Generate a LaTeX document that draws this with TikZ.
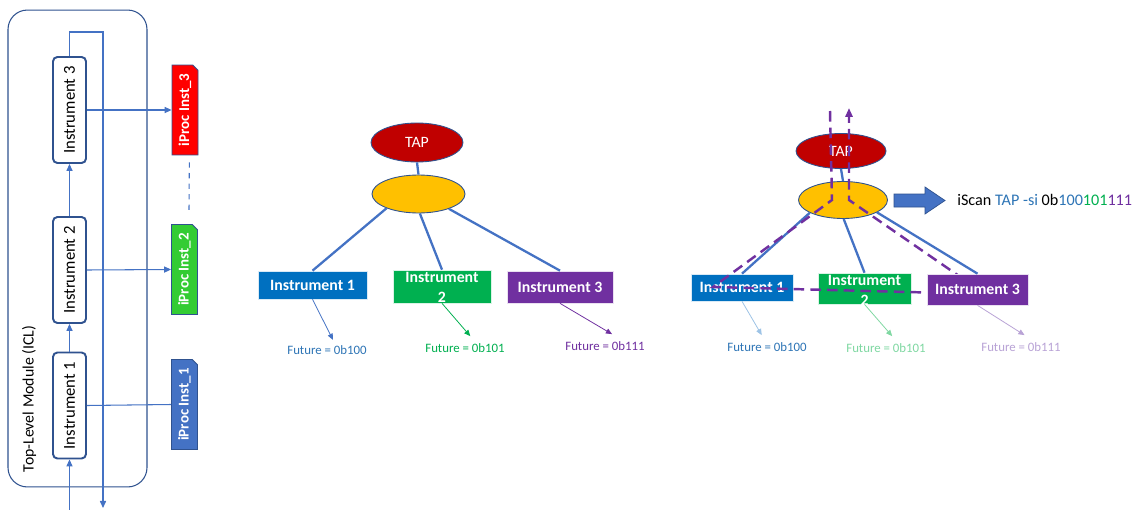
\documentclass[tikz,border=0pt]{standalone}
\usepackage{fontspec}
\setmainfont{Carlito}
\usepackage{tikz}
\usetikzlibrary{positioning, arrows.meta, shapes.geometric, shapes.misc}
\definecolor{icledge}{HTML}{2F528F}
\definecolor{iclwire}{HTML}{4472C4}
\definecolor{tapred}{HTML}{C00000}
\definecolor{tapgold}{HTML}{FFC000}
\definecolor{instblue}{HTML}{0070C0}
\definecolor{instgreen}{HTML}{00B050}
\definecolor{instpurple}{HTML}{7030A0}
\definecolor{procred}{HTML}{FF0000}
\definecolor{procgreen}{HTML}{33CC33}
\definecolor{procblue}{HTML}{4472C4}
\definecolor{futblue}{HTML}{2E75B6}
\definecolor{fadeblue}{HTML}{9DC3E6}
\definecolor{fadegreen}{HTML}{7FD8A2}
\definecolor{fadepurple}{HTML}{B9A3D6}
\tikzset{
  iclbox/.style={rectangle, rounded corners=2.5pt, draw=icledge, line width=1.1pt, fill=white,
    minimum width=0.66cm, minimum height=2.12cm, inner sep=0pt, font=\fontsize{9.5pt}{11pt}\selectfont},
  procbox/.style={chamfered rectangle, chamfered rectangle corners=north east, chamfered rectangle sep=1.5pt,
    draw=icledge, line width=0.5pt, minimum width=0.52cm, minimum height=1.8cm, inner sep=0pt,
    text=white, font=\bfseries\fontsize{8.5pt}{10pt}\selectfont},
  wire/.style={draw=iclwire, line width=0.6pt},
  tip/.style={-{Triangle[length=4pt,width=3.5pt]}},
  tapnode/.style={ellipse, draw=icledge, line width=0.5pt, fill=tapred, text=white, inner sep=0pt,
    font=\fontsize{9pt}{10pt}\selectfont},
  muxnode/.style={ellipse, draw=icledge, line width=0.5pt, fill=tapgold, inner sep=0pt},
  instbox/.style={rectangle, fill=#1, draw=white!85!#1, line width=0.4pt, inner sep=0pt},
  insttext/.style={text=white, align=center, inner sep=0pt, font=\bfseries\fontsize{9pt}{11.3pt}\selectfont},
  link/.style={draw=iclwire, line width=1.3pt},
  futlabel/.style={text=#1, inner sep=1pt, font=\fontsize{7.3pt}{8pt}\selectfont},
  futarrow/.style={draw=#1, line width=0.45pt, -{Triangle[length=3.5pt,width=3pt]}},
  scanpath/.style={draw=instpurple, line width=1.4pt, dash pattern=on 6pt off 3.5pt,
    -{Triangle[length=5pt,width=4pt]}}
}

\begin{document}
\begin{tikzpicture}[x=0.02cm, y=-0.02cm]
  \fill[white] (0,0) rectangle (1142,510);
  \useasboundingbox (0,0) rectangle (1142,510);

  % top-level module
  \node[rectangle, rounded corners=11pt, draw=icledge, line width=0.6pt,
        minimum width=2.78cm, minimum height=9.54cm] (icl) at (77.5,248.5) {};
  \node[rotate=90, font=\fontsize{9pt}{10pt}\selectfont] (iclLabel) at (29,399) {Top-Level Module (ICL)};
  \node[iclbox] (i1) at (69.5,405.5) {\rotatebox{90}{Instrument 1}};
  \node[iclbox] (i2) at (69.5,270) {\rotatebox{90}{Instrument 2}};
  \node[iclbox] (i3) at (69.5,110) {\rotatebox{90}{Instrument 3}};
  \coordinate (iclIn) at (69.5,510);
  \coordinate (fbTop) at (103,32);
  \coordinate (fbOut) at (103,508);
  \draw[wire, tip] (iclIn) -- (i1.south);
  \draw[wire, tip] (i1.north) -- (i2.south);
  \draw[wire, tip] (i2.north) -- (i3.south);
  \draw[wire, tip] (i3.north) |- (fbTop) -- (fbOut);

  \node[procbox, fill=procblue] (p1) at (184.5,404.5) {\rotatebox{90}{iProc Inst\_1}};
  \node[procbox, fill=procgreen] (p2) at (184.5,269.5) {\rotatebox{90}{iProc Inst\_2}};
  \node[procbox, fill=procred] (p3) at (185,110) {\rotatebox{90}{iProc Inst\_3}};
  \draw[wire] (i1.east) -- (p1.west);
  \draw[wire, tip] (i2.east) -- (p2.west);
  \draw[wire, tip] (i3.east) -- (p3.west);
  \draw[wire, dashed, shorten <=4pt, shorten >=6pt] ([xshift=2.5pt]p3.south) -- ([xshift=2.5pt]p2.north);

  % network view
  \node[tapnode, minimum width=1.84cm, minimum height=0.78cm] (tapM) at (417,142.5) {TAP};
  \node[muxnode, minimum width=1.86cm, minimum height=0.76cm] (muxM) at (418.5,194) {};
  \node[instbox=instblue, minimum width=2.18cm, minimum height=0.56cm] (mI1) at (312.5,285) {};
  \node[instbox=instgreen, minimum width=1.96cm, minimum height=0.66cm] (mI2) at (442,286.5) {};
  \node[instbox=instpurple, minimum width=2.12cm, minimum height=0.64cm] (mI3) at (560,287) {};
  \node[insttext] (mI1t) at (mI1) {Instrument 1};
  \node[insttext] (mI2t) at ([yshift=-0.5pt]mI2) {Instrument\\2};
  \node[insttext] (mI3t) at (mI3) {Instrument 3};
  \draw[link] (tapM.south) -- (muxM.north);
  \draw[link] (muxM.204) -- (mI1.north);
  \draw[link] (muxM.274) -- (mI2.north);
  \draw[link] (muxM.334) -- (mI3.north);

  \node[futlabel=futblue] (fM1) at (327,350) {Future = 0b100};
  \node[futlabel=instgreen] (fM2) at (465,348) {Future = 0b101};
  \node[futlabel=instpurple] (fM3) at (605,346) {Future = 0b111};
  \draw[futarrow=iclwire] (mI1.south) -- ([xshift=3.4pt, yshift=2pt]fM1.north);
  \draw[futarrow=instgreen] (mI2.south) -- ([xshift=3pt, yshift=3pt]fM2.north);
  \draw[futarrow=instpurple] (mI3.south) -- ([xshift=4pt, yshift=3pt]fM3.north);

  % scan view
  \node[tapnode, minimum width=1.80cm, minimum height=0.70cm] (tapR) at (841,151) {TAP};
  \node[muxnode, minimum width=1.78cm, minimum height=0.74cm] (muxR) at (843,200) {};
  \node[instbox=instblue, minimum width=2.04cm, minimum height=0.54cm] (rI1) at (742,287.5) {};
  \node[instbox=instgreen, minimum width=1.86cm, minimum height=0.62cm] (rI2) at (864.5,288.5) {};
  \node[insttext] (rI1t) at (rI1) {Instrument 1};
  \node[insttext] (rI2t) at ([yshift=-1pt]rI2) {Instrument\\2};
  \draw[link] (tapR.south) -- (muxR.north);
  \draw[link] (muxR.201) -- (rI1.north);
  \draw[link] (muxR.272) -- (rI2.north);

  \coordinate (scanIn) at (830,111);
  \coordinate (scanOut) at (849,108);
  \draw[scanpath] (scanIn) -- (832,200) -- (713,287) -- (985,294) -- (849,200) -- (scanOut);

  \node[instbox=instpurple, minimum width=2.02cm, minimum height=0.62cm] (rI3) at (977.5,289.5) {};
  \node[insttext] (rI3t) at (rI3) {Instrument 3};
  \draw[link] (muxR.340) -- (rI3.north);

  \node[futlabel=futblue] (fR1) at (767,347) {Future = 0b100};
  \node[futlabel=fadegreen] (fR2) at (886,348) {Future = 0b101};
  \node[futlabel=fadepurple] (fR3) at (1021,347) {Future = 0b111};
  \draw[futarrow=fadeblue] (rI1.south) -- ([xshift=-3pt, yshift=3pt]fR1.north);
  \draw[futarrow=fadegreen] (rI2.south) -- ([xshift=3.5pt, yshift=3pt]fR2.north);
  \draw[futarrow=fadepurple] (rI3.south) -- ([xshift=2pt, yshift=3pt]fR3.north);

  \fill[iclwire, draw=icledge, line width=0.4pt] (894,194) -- (925,194) -- (925,187) -- (945,200.5)
    -- (925,214) -- (925,207) -- (894,207) -- cycle;
  \node[anchor=west, inner sep=0pt, font=\fontsize{9.2pt}{11pt}\selectfont] (scanCmd) at (957,200)
    {iScan \textcolor{futblue}{TAP -si} 0b\textcolor{futblue}{100}\textcolor{instgreen}{101}\textcolor{instpurple}{111}};
\end{tikzpicture}
\end{document}
